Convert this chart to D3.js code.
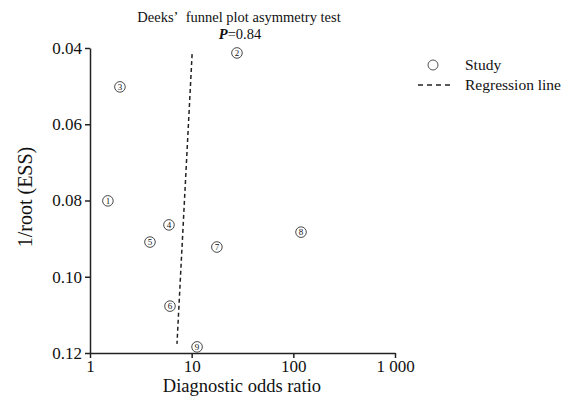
<!DOCTYPE html>
<html lang="en">
<head>
<meta charset="UTF-8">
<title>Deeks' funnel plot</title>
<script src="https://d3js.org/d3.v7.min.js"></script>
<style>
body { margin: 0; background: #fff; }
svg text { font-family: "Liberation Serif", "Times New Roman", serif; fill: #111; }
.axis path, .axis line { stroke: #222; stroke-width: 1.5; }
.axis text { font-size: 17px; font-family: "Liberation Serif", serif; fill: #111; }
</style>
</head>
<body>
<svg width="571" height="402"></svg>
<script>
// study data
var studyIds = [1, 2, 3, 4, 5, 6, 7, 8, 9];
var studyDOR = [1.5, 27.9, 1.97, 5.98, 3.89, 6.12, 17.7, 119, 11.3];
var studyESS = [0.0801, 0.0413, 0.0502, 0.0864, 0.0909, 0.1077, 0.0922, 0.0883, 0.1184];

// regression line end points
var regDOR = [10.1, 7.17];
var regESS = [0.0416, 0.1176];

var xTicks = [1, 10, 100, 1000];
var xTickLabels = ["1", "10", "100", "1 000"];
var yTicks = [0.04, 0.06, 0.08, 0.10, 0.12];

var svg = d3.select("svg");

var x = d3.scaleLog().domain([1, 1000]).range([90, 395]);
var y = d3.scaleLinear().domain([0.04, 0.12]).range([48, 353]);

// axes
svg.append("g")
    .attr("class", "axis")
    .attr("transform", "translate(0," + y(0.12) + ")")
    .call(d3.axisBottom(x).tickValues(xTicks).tickSize(5).tickPadding(2).tickSizeOuter(0)
      .tickFormat(function(d, i) { return xTickLabels[i]; }));

svg.append("g")
    .attr("class", "axis")
    .attr("transform", "translate(" + x(1) + ",0)")
    .call(d3.axisLeft(y).tickValues(yTicks).tickSize(5).tickPadding(3).tickSizeOuter(0)
      .tickFormat(d3.format(".2f")));

// regression line
var line = d3.line()
    .x(function(d) { return x(d[0]); })
    .y(function(d) { return y(d[1]); });

svg.append("path")
    .datum(d3.zip(regDOR, regESS))
    .attr("d", line)
    .attr("fill", "none")
    .attr("stroke", "#222")
    .attr("stroke-width", 1.5)
    .attr("stroke-dasharray", "4,3");

// studies
var pts = svg.append("g")
    .selectAll("g")
    .data(studyIds)
    .enter().append("g")
    .attr("transform", function(d, i) {
      return "translate(" + x(studyDOR[i]) + "," + y(studyESS[i]) + ")";
    });

pts.append("circle")
    .attr("r", 5.3)
    .attr("fill", "#fff")
    .attr("stroke", "#333")
    .attr("stroke-width", 0.9);

pts.append("text")
    .text(function(d) { return d; })
    .attr("text-anchor", "middle")
    .attr("dy", "0.35em")
    .style("font-size", "9px");

// titles
svg.append("text")
    .attr("x", 239).attr("y", 22)
    .attr("text-anchor", "middle")
    .style("font-size", "14.5px")
    .text("Deeks\u2019\u2002funnel plot asymmetry test");

var p = svg.append("text")
    .attr("x", 240).attr("y", 38.5)
    .attr("text-anchor", "middle")
    .style("font-size", "14.5px");
p.append("tspan").style("font-style", "italic").style("font-weight", "bold").text("P");
p.append("tspan").text("=0.84");

svg.append("text")
    .attr("x", 242).attr("y", 392)
    .attr("text-anchor", "middle")
    .style("font-size", "18.5px")
    .text("Diagnostic odds ratio");

svg.append("text")
    .attr("transform", "translate(32,197) rotate(-90)")
    .attr("text-anchor", "middle")
    .style("font-size", "20px")
    .text("1/root (ESS)");

// legend
svg.append("circle")
    .attr("cx", 433).attr("cy", 65).attr("r", 5)
    .attr("fill", "#fff").attr("stroke", "#555").attr("stroke-width", 1);
svg.append("text")
    .attr("x", 465).attr("y", 70)
    .style("font-size", "15.5px")
    .text("Study");
svg.append("line")
    .attr("x1", 418).attr("x2", 452).attr("y1", 85).attr("y2", 85)
    .attr("stroke", "#222").attr("stroke-width", 1.5)
    .attr("stroke-dasharray", "5,4");
svg.append("text")
    .attr("x", 465).attr("y", 90)
    .style("font-size", "15.5px")
    .text("Regression line");
</script>
</body>
</html>
